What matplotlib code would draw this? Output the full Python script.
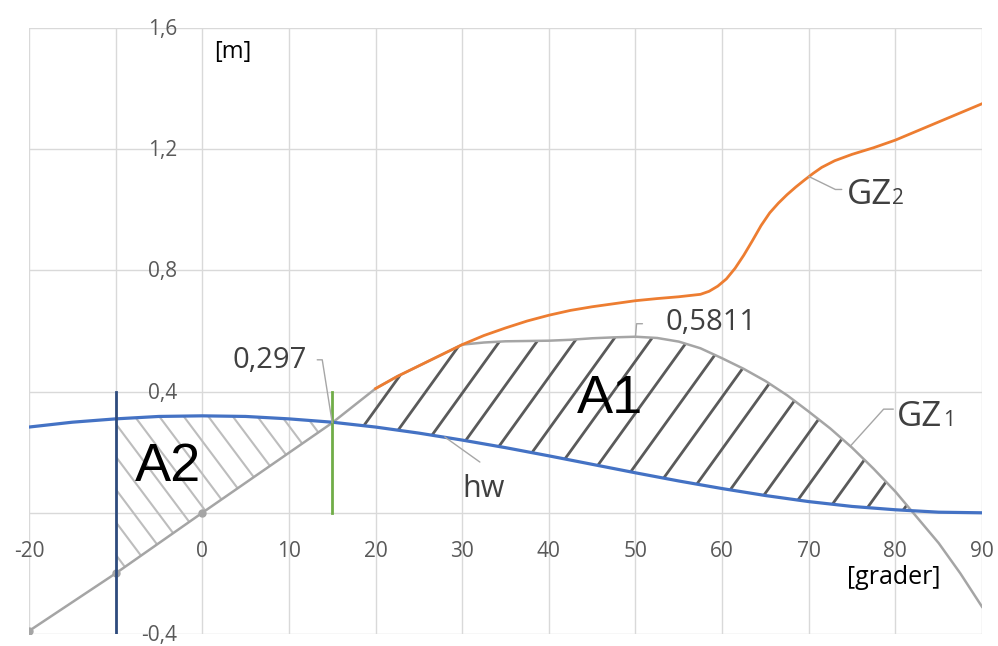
import numpy as np
import matplotlib
matplotlib.use("Agg")
import matplotlib.pyplot as plt

plt.rcParams["font.family"] = ["Open Sans", "DejaVu Sans"]

# heeling arm hw [m]
hw_deg = [-20, -15, -10, -5, 0, 5, 10, 15, 20, 25, 30, 35, 40, 45, 50,
          55, 60, 65, 70, 75, 80, 85, 90]
hw_val = [0.283, 0.299, 0.310, 0.318, 0.320, 0.318, 0.310, 0.299, 0.283,
          0.263, 0.240, 0.215, 0.188, 0.160, 0.132, 0.105, 0.080, 0.057,
          0.037, 0.021, 0.010, 0.002, 0.0]

# GZ1 [m]
gz1_deg = [-20, -10, 0, 15, 20, 22.5, 25, 27.5, 30, 32.5, 35, 37.5, 40,
           42.5, 45, 47.5, 50, 52.5, 55, 57.5, 60, 62.5, 65, 67.5, 70,
           72.5, 75, 77.5, 80, 82.5, 85, 87.5, 90]
gz1_val = [-0.39, -0.2, 0.0, 0.297, 0.41, 0.45, 0.485, 0.52, 0.555, 0.562,
           0.566, 0.567, 0.568, 0.571, 0.576, 0.579, 0.5811, 0.577, 0.565,
           0.543, 0.51, 0.475, 0.435, 0.388, 0.334, 0.278, 0.215, 0.145,
           0.07, -0.015, -0.1, -0.2, -0.31]

# GZ2 [m]
gz2_deg = [20, 22.5, 25, 27.5, 30, 32.5, 35, 37.5, 40, 42.5, 45, 47.5, 50,
           52.5, 55, 57.5, 58.5, 59.5, 60.5, 61.5, 62.5, 63.5, 64.5, 65.5,
           66.5, 67.5, 68.5, 69.5, 70.5, 71.5, 73, 75, 77.5, 80, 85, 90]
gz2_val = [0.41, 0.45, 0.485, 0.52, 0.555, 0.585, 0.61, 0.633, 0.652, 0.668,
           0.68, 0.69, 0.70, 0.707, 0.713, 0.721, 0.731, 0.748, 0.772, 0.807,
           0.85, 0.898, 0.948, 0.99, 1.022, 1.05, 1.075, 1.098, 1.12, 1.14,
           1.162, 1.183, 1.205, 1.23, 1.29, 1.35]

point_deg = [-20, -10, 0]
point_val = [-0.39, -0.2, 0.0]

x_ticks = [-20, -10, 0, 10, 20, 30, 40, 50, 60, 70, 80, 90]
x_tick_labels = ["-20", "", "0", "10", "20", "30", "40", "50", "60", "70",
                 "80", "90"]
y_ticks = [1.6, 1.2, 0.8, 0.4, -0.4]
y_tick_labels = ["1,6", "1,2", "0,8", "0,4", "-0,4"]

phi_start = -10
phi_eq = 15
phi_top = 0.4

TICK_GREY = "#595959"
LABEL_GREY = "#404040"
LEADER = "#A6A6A6"


def hatch_region(ax, path, x0_list, slope, color, lw):
    """Draw straight hatch lines clipped to a region (slope = dx/dy in data)."""
    ys = np.array([-0.6, 1.8])
    for x0 in x0_list:
        line, = ax.plot(x0 + slope * ys, ys, color=color, lw=lw,
                        solid_capstyle="butt", zorder=2)
        line.set_clip_path(path, ax.transData)


def leader(ax, xy, end, angle_b=None):
    """Thin grey leader from a data point to an offset (pixels) end point."""
    style = "arc3"
    if angle_b is not None:
        style = f"angle,angleA=0,angleB={angle_b},rad=0"
    ax.annotate("", xy, xytext=end, textcoords="offset pixels",
                arrowprops=dict(arrowstyle="-", color=LEADER, lw=1,
                                shrinkA=0, shrinkB=0, connectionstyle=style),
                zorder=6)


def main():
    fig = plt.figure(figsize=(9.98, 6.46), dpi=100)
    ax = fig.add_axes([29 / 998, 12 / 646, 953 / 998, 606 / 646])
    ax.set_xlim(-20, 90)
    ax.set_ylim(-0.4, 1.6)
    for s in ax.spines.values():
        s.set_visible(False)
    ax.set_xticks(x_ticks)
    ax.set_yticks([-0.4, 0, 0.4, 0.8, 1.2, 1.6])
    ax.tick_params(length=0, labelleft=False, labelbottom=False)
    ax.grid(True, color="#D9D9D9", lw=1)
    ax.set_axisbelow(True)

    # regions for hatching
    xa = np.linspace(phi_start, phi_eq, 300)
    a2 = ax.fill_between(xa, np.interp(xa, gz1_deg, gz1_val),
                         np.interp(xa, hw_deg, hw_val),
                         facecolor="none", edgecolor="none")
    xb = np.linspace(phi_eq, 90, 1200)
    top = np.interp(xb, gz1_deg, gz1_val)
    bot = np.interp(xb, hw_deg, hw_val)
    a1 = ax.fill_between(xb, bot, top, where=top >= bot, interpolate=True,
                         facecolor="none", edgecolor="none")

    hatch_region(ax, a2.get_paths()[0], 3.37 + 2.83 * np.arange(-12, 10),
                 -26.2, "#BDBDBD", 1.5)
    hatch_region(ax, a1.get_paths()[0], 11.4 + 4.33 * np.arange(-2, 20),
                 25.2, "#5A5A5A", 2.0)

    # curves
    ax.plot(gz1_deg, gz1_val, color="#A5A5A5", lw=1.8, zorder=3)
    ax.plot(point_deg, point_val, "o", color="#A5A5A5", ms=5, zorder=3)
    ax.plot(gz2_deg, gz2_val, color="#ED7D31", lw=2, zorder=4)
    ax.plot(hw_deg, hw_val, color="#4472C4", lw=2.3, zorder=5)
    ax.plot([phi_start, phi_start], [-0.4, phi_top], color="#2E4B7D", lw=2,
            zorder=6)
    ax.plot([phi_eq, phi_eq], [0, phi_top], color="#70AD47", lw=2, zorder=6)

    # tick labels on the axes through the origin
    for x, lab in zip(x_ticks, x_tick_labels):
        ax.annotate(lab, (x, 0), xytext=(0, -44), textcoords="offset pixels",
                    ha="center", va="baseline", fontsize=15, color=TICK_GREY)
    for y, lab in zip(y_ticks, y_tick_labels):
        ax.annotate(lab, (0, y), xytext=(-25, -7), textcoords="offset pixels",
                    ha="right", va="baseline", fontsize=15, color=TICK_GREY)

    ax.text(0.194, 0.9596, "[m]", transform=ax.transAxes, fontsize=17,
            ha="left", va="center", color="black")
    ax.text(0.858, 0.094, "[grader]", transform=ax.transAxes, fontsize=18,
            ha="left", va="center", color="black")

    ax.text(47.1, 0.374, "A1", fontsize=39, family="Liberation Sans",
            ha="center", va="center", color="black", zorder=7)
    ax.text(-3.9, 0.152, "A2", fontsize=39, family="Liberation Sans",
            ha="center", va="center", color="black", zorder=7)

    # data labels with leader lines
    ax.annotate("0,297", (phi_eq, 0.297), xytext=(-63, 62),
                textcoords="offset pixels", ha="center", va="center",
                fontsize=21, color=LABEL_GREY)
    leader(ax, (phi_eq, 0.297), (-15, 63), 99)

    ax.annotate("0,5811", (50, 0.5811), xytext=(30, 7),
                textcoords="offset pixels", ha="left", va="baseline",
                fontsize=21, color=LABEL_GREY)
    leader(ax, (50, 0.5811), (7, 13), 85)

    gz2 = ax.annotate("GZ", (70, 1.11), xytext=(38, -28),
                      textcoords="offset pixels", ha="left", va="baseline",
                      fontsize=25, color=LABEL_GREY)
    ax.annotate("2", (1, 0), xycoords=gz2, xytext=(0, 3),
                textcoords="offset pixels", ha="left", va="bottom",
                fontsize=15, color=LABEL_GREY)
    leader(ax, (70, 1.11), (33, -13), -26)

    gz1 = ax.annotate("GZ", (74.8, 0.22), xytext=(47, 20),
                      textcoords="offset pixels", ha="left", va="baseline",
                      fontsize=25, color=LABEL_GREY)
    ax.annotate("1", (1, 0), xycoords=gz1, xytext=(0, 3),
                textcoords="offset pixels", ha="left", va="bottom",
                fontsize=15, color=LABEL_GREY)
    leader(ax, (74.8, 0.22), (43, 37), 48)

    ax.annotate("hw", (28, 0.25), xytext=(18, -60),
                textcoords="offset pixels", ha="left", va="baseline",
                fontsize=22, color=LABEL_GREY)
    leader(ax, (28, 0.25), (35, -25))

    fig.savefig("out.png", dpi=100)


if __name__ == "__main__":
    main()
